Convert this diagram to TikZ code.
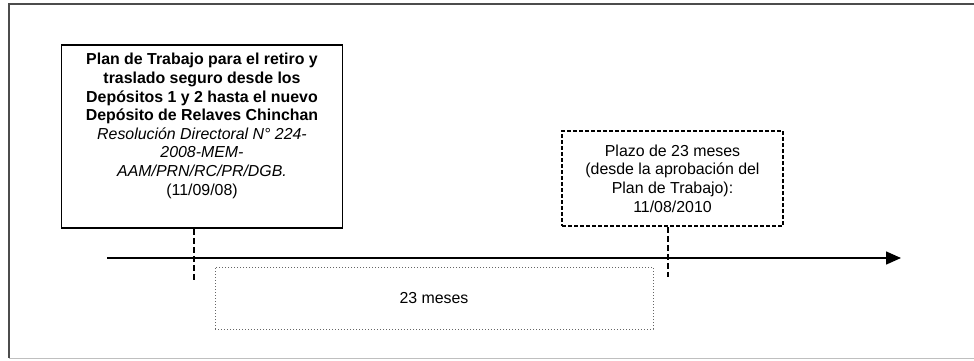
\documentclass[tikz,border=0pt]{standalone}
\usepackage{fontspec}
\setmainfont{Liberation Sans}
\usetikzlibrary{arrows.meta}

\begin{document}
\begin{tikzpicture}[x=1pt,y=-1pt,>={Triangle[length=15pt,width=13pt]},
  every node/.style={font=\fontsize{15.9}{18.6}\selectfont,align=center,inner sep=0pt}]
\useasboundingbox (0,0) rectangle (974,360);
% marco
\draw[line width=2pt,black!70] (974,4) -- (9,4) -- (9,358);
\draw[line width=1pt,black!25] (9,358) -- (974,358);

\node[draw,line width=1.5pt,minimum width=281pt,minimum height=183pt] (plan) at (202,136.5)
  {\textbf{Plan de Trabajo para el retiro y}\\ \textbf{traslado seguro desde los}\\
   \textbf{Depósitos 1 y 2 hasta el nuevo}\\ \textbf{Depósito de Relaves Chinchan}\\
   \textit{Resolución Directoral N° 224-}\\ \textit{2008-MEM-}\\
   \textit{AAM/PRN/RC/PR/DGB.}\\ (11/09/08)\\[6pt]};
\node[draw,line width=1.5pt,dash pattern=on 4pt off 2pt,minimum width=221pt,minimum height=95pt] (plazo) at (672.5,178.5)
  {Plazo de 23 meses\\ (desde la aprobación del\\ Plan de Trabajo):\\ 11/08/2010};
\node[draw=black!60,line width=1pt,dotted,text=black,minimum width=438pt,minimum height=62pt] (meses) at (434,298) {23 meses};

\coordinate (a0) at (107,258);
\coordinate (a1) at (901,258);
\coordinate (f1) at (194,280);
\coordinate (f2) at (668,277);

\draw[->,line width=1.5pt] (a0) -- (a1);
\draw[line width=1.5pt,dash pattern=on 6pt off 3pt] (plan.south -| f1) -- (f1);
\draw[line width=1.5pt,dash pattern=on 6pt off 3pt] (plazo.south -| f2) -- (f2);

\end{tikzpicture}
\end{document}
